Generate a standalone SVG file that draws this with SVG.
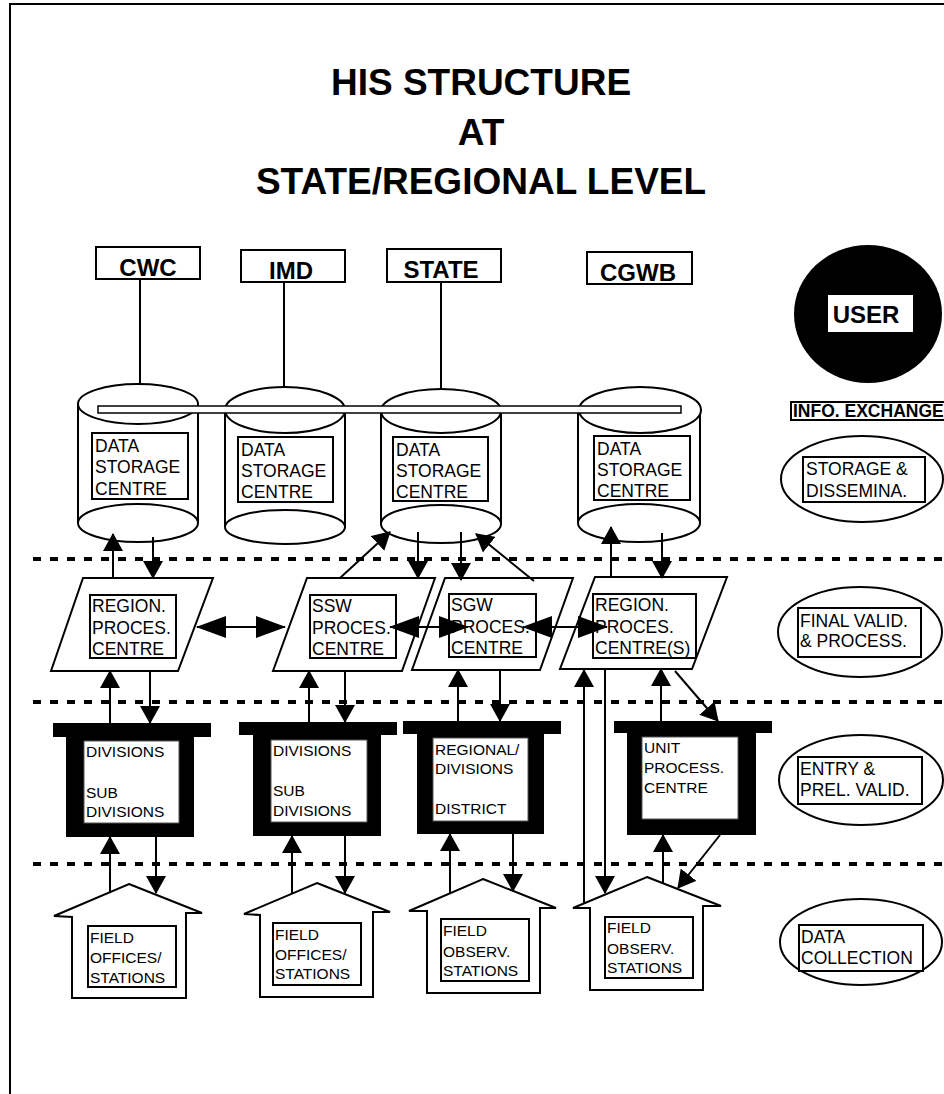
<svg xmlns="http://www.w3.org/2000/svg" width="944" height="1094" viewBox="0 0 944 1094">
<style>
.ln{stroke:#000;stroke-width:2;fill:none}
.sh{fill:#fff;stroke:#000;stroke-width:2}
.blk{fill:#000;stroke:none}
.wh{fill:#fff;stroke:#555;stroke-width:1}
.t{font-family:"Liberation Sans",Arial,sans-serif;font-size:17.5px;fill:#000}
.ts{font-size:15.5px}
.tb{font-weight:bold;font-size:24px}
.title{font-family:"Liberation Sans",Arial,sans-serif;font-weight:bold;font-size:37px;fill:#000}
.dot{stroke:#000;stroke-width:4;stroke-dasharray:8 9;fill:none}
.arr{stroke:#000;stroke-width:2;fill:none;marker-end:url(#ah)}
.dbl{stroke:#000;stroke-width:2;fill:none;marker-end:url(#aw);marker-start:url(#aw)}
</style>
<defs>
<marker id="ah" viewBox="0 0 18 20" markerWidth="18" markerHeight="20" refX="17" refY="10" orient="auto" markerUnits="userSpaceOnUse"><path d="M0,0 L18,10 L0,20 z" fill="#000"/></marker>
<marker id="aw" viewBox="0 0 30 22" markerWidth="30" markerHeight="22" refX="29" refY="11" orient="auto-start-reverse" markerUnits="userSpaceOnUse"><path d="M0,0 L30,11 L0,22 z" fill="#000"/></marker>
</defs>
<rect width="944" height="1094" fill="#fff"/>
<path d="M10,1094 V4 H944" class="ln"/>
<g id="title">
<text x="481" y="95" text-anchor="middle" class="title">HIS STRUCTURE</text>
<text x="481" y="145" text-anchor="middle" class="title">AT</text>
<text x="481" y="194" text-anchor="middle" class="title">STATE/REGIONAL LEVEL</text>
</g>
<g id="levels">
<line x1="33" y1="559" x2="944" y2="559" class="dot"/>
<line x1="33" y1="702" x2="944" y2="702" class="dot"/>
<line x1="33" y1="864" x2="944" y2="864" class="dot"/>
</g>
<g id="org-cwc"><rect x="96" y="247" width="104" height="32" class="sh"/><text x="148" y="276" text-anchor="middle" class="t tb">CWC</text></g>
<g id="org-imd"><rect x="241" y="250" width="104" height="32" class="sh"/><text x="291" y="279" text-anchor="middle" class="t tb">IMD</text></g>
<g id="org-state"><rect x="387" y="249" width="114" height="33" class="sh"/><text x="441" y="278" text-anchor="middle" class="t tb">STATE</text></g>
<g id="org-cgwb"><rect x="587" y="252" width="105" height="32" class="sh"/><text x="638" y="281" text-anchor="middle" class="t tb">CGWB</text></g>
<g id="org-lines">
<line x1="140" y1="279" x2="140" y2="384" class="ln"/>
<line x1="284" y1="282" x2="284" y2="388" class="ln"/>
<line x1="441" y1="282" x2="441" y2="390" class="ln"/>
</g>
<g id="dsc-cwc">
<rect x="78" y="404" width="120" height="119" fill="#fff"/>
<line x1="78" y1="404" x2="78" y2="523" class="ln"/><line x1="198" y1="404" x2="198" y2="523" class="ln"/>
<ellipse cx="138" cy="523" rx="60" ry="19" class="sh"/>
<ellipse cx="138" cy="404" rx="60" ry="20" class="sh"/>
<rect x="92" y="433" width="96" height="66" class="sh"/>
<text class="t"><tspan x="95" y="452">DATA</tspan><tspan x="95" y="473">STORAGE</tspan><tspan x="95" y="495">CENTRE</tspan></text>
</g>
<g id="dsc-imd">
<rect x="225" y="410" width="120" height="117" fill="#fff"/>
<line x1="225" y1="410" x2="225" y2="527" class="ln"/><line x1="345" y1="410" x2="345" y2="527" class="ln"/>
<ellipse cx="285" cy="527" rx="60" ry="17" class="sh"/>
<ellipse cx="285" cy="410" rx="60" ry="23" class="sh"/>
<rect x="238" y="437" width="95" height="65" class="sh"/>
<text class="t"><tspan x="241" y="456">DATA</tspan><tspan x="241" y="477">STORAGE</tspan><tspan x="241" y="498">CENTRE</tspan></text>
</g>
<g id="dsc-state">
<rect x="381" y="411" width="120" height="113" fill="#fff"/>
<line x1="381" y1="411" x2="381" y2="524" class="ln"/><line x1="501" y1="411" x2="501" y2="524" class="ln"/>
<ellipse cx="441" cy="524" rx="60" ry="19" class="sh"/>
<ellipse cx="441" cy="411" rx="60" ry="22" class="sh"/>
<rect x="393" y="437" width="95" height="64" class="sh"/>
<text class="t"><tspan x="396" y="456">DATA</tspan><tspan x="396" y="477">STORAGE</tspan><tspan x="396" y="498">CENTRE</tspan></text>
</g>
<g id="dsc-cgwb">
<rect x="578" y="410" width="122" height="113" fill="#fff"/>
<line x1="578" y1="410" x2="578" y2="523" class="ln"/><line x1="700" y1="410" x2="700" y2="523" class="ln"/>
<ellipse cx="639" cy="523" rx="61" ry="19" class="sh"/>
<ellipse cx="640" cy="410" rx="61" ry="23" class="sh"/>
<rect x="594" y="436" width="96" height="64" class="sh"/>
<text class="t"><tspan x="597" y="455">DATA</tspan><tspan x="597" y="476">STORAGE</tspan><tspan x="597" y="497">CENTRE</tspan></text>
</g>
<g id="info-bar"><rect x="98" y="406" width="583" height="7" fill="#fff" stroke="#000" stroke-width="1.5"/></g>
<g id="proc-region1">
<polygon points="83,578 213,578 178,671 51,671" class="sh"/>
<rect x="90" y="595" width="86" height="63" class="sh"/>
<text class="t"><tspan x="92" y="612">REGION.</tspan><tspan x="92" y="634">PROCES.</tspan><tspan x="92" y="655">CENTRE</tspan></text>
</g>
<g id="proc-ssw">
<polygon points="307,578 435,578 402,671 273,671" class="sh"/>
<rect x="310" y="595" width="86" height="63" class="sh"/>
<text class="t"><tspan x="312" y="612">SSW</tspan><tspan x="312" y="634">PROCES.</tspan><tspan x="312" y="655">CENTRE</tspan></text>
</g>
<g id="proc-sgw">
<polygon points="445,578 573,578 540,670 412,670" class="sh"/>
<rect x="449" y="594" width="87" height="63" class="sh"/>
<text class="t"><tspan x="451" y="611">SGW</tspan><tspan x="451" y="633">PROCES.</tspan><tspan x="451" y="654">CENTRE</tspan></text>
</g>
<g id="proc-region2">
<polygon points="595,577 727,577 692,669 560,669" class="sh"/>
<rect x="593" y="594" width="103" height="64" class="sh"/>
<text class="t"><tspan x="595" y="611">REGION.</tspan><tspan x="595" y="633">PROCES.</tspan><tspan x="595" y="654">CENTRE(S)</tspan></text>
</g>
<g id="div-1">
<path d="M53,723 H211 V737 H194 V837 H66 V737 H53 Z" class="blk"/>
<rect x="84" y="741" width="95" height="82" class="wh"/>
<text class="t ts"><tspan x="86" y="757">DIVISIONS</tspan><tspan x="86" y="798">SUB</tspan><tspan x="86" y="817">DIVISIONS</tspan></text>
</g>
<g id="div-2">
<path d="M239,722 H397 V735 H381 V836 H253 V735 H239 Z" class="blk"/>
<rect x="271" y="740" width="96" height="82" class="wh"/>
<text class="t ts"><tspan x="273" y="756">DIVISIONS</tspan><tspan x="273" y="796">SUB</tspan><tspan x="273" y="816">DIVISIONS</tspan></text>
</g>
<g id="div-3">
<path d="M403,721 H561 V734 H544 V834 H417 V734 H403 Z" class="blk"/>
<rect x="433" y="738" width="95" height="83" class="wh"/>
<text class="t ts"><tspan x="435" y="755">REGIONAL/</tspan><tspan x="435" y="774">DIVISIONS</tspan><tspan x="435" y="814">DISTRICT</tspan></text>
</g>
<g id="div-4">
<path d="M614,721 H772 V733 H756 V835 H627 V733 H614 Z" class="blk"/>
<rect x="642" y="737" width="96" height="82" class="wh"/>
<text class="t ts"><tspan x="644" y="753">UNIT</tspan><tspan x="644" y="773">PROCESS.</tspan><tspan x="644" y="793">CENTRE</tspan></text>
</g>
<g id="field-1">
<polygon points="129,884 202,913 186,913 186,998 72,998 72,917 54,916" class="sh"/>
<rect x="88" y="926" width="88" height="61" class="sh"/>
<text class="t ts"><tspan x="90" y="943">FIELD</tspan><tspan x="90" y="963">OFFICES/</tspan><tspan x="90" y="983">STATIONS</tspan></text>
</g>
<g id="field-2">
<polygon points="317,883 390,912 373,912 373,997 260,997 260,915 244,914" class="sh"/>
<rect x="273" y="923" width="88" height="62" class="sh"/>
<text class="t ts"><tspan x="275" y="940">FIELD</tspan><tspan x="275" y="960">OFFICES/</tspan><tspan x="275" y="979">STATIONS</tspan></text>
</g>
<g id="field-3">
<polygon points="483,879 556,908 540,908 540,993 427,993 427,911 409,911" class="sh"/>
<rect x="441" y="919" width="88" height="62" class="sh"/>
<text class="t ts"><tspan x="443" y="936">FIELD</tspan><tspan x="443" y="957">OBSERV.</tspan><tspan x="443" y="976">STATIONS</tspan></text>
</g>
<g id="field-4">
<polygon points="647,877 721,906 703,906 703,990 590,990 590,908 573,908" class="sh"/>
<rect x="605" y="917" width="88" height="61" class="sh"/>
<text class="t ts"><tspan x="607" y="933">FIELD</tspan><tspan x="607" y="954">OBSERV.</tspan><tspan x="607" y="973">STATIONS</tspan></text>
</g>
<g id="user">
<ellipse cx="868" cy="314" rx="74" ry="69" fill="#000"/>
<rect x="828" y="295" width="85" height="37" fill="#fff"/>
<text x="866" y="323" text-anchor="middle" class="t tb">USER</text>
</g>
<g id="info-exchange">
<rect x="791" y="402" width="170" height="18" class="sh"/>
<text x="793" y="417" class="t" font-weight="bold" font-size="17px">INFO. EXCHANGE</text>
</g>
<g id="lvl-storage">
<ellipse cx="862" cy="479" rx="81" ry="43" class="sh"/>
<rect x="803" y="457" width="122" height="45" class="sh"/>
<text class="t"><tspan x="806" y="475">STORAGE &amp;</tspan><tspan x="806" y="497">DISSEMINA.</tspan></text>
</g>
<g id="lvl-final">
<ellipse cx="860" cy="632" rx="82" ry="45" class="sh"/>
<rect x="798" y="608" width="123" height="49" class="sh"/>
<text class="t"><tspan x="800" y="627">FINAL VALID.</tspan><tspan x="800" y="647">&amp; PROCESS.</tspan></text>
</g>
<g id="lvl-entry">
<ellipse cx="861" cy="780" rx="82" ry="45" class="sh"/>
<rect x="798" y="757" width="124" height="47" class="sh"/>
<text class="t"><tspan x="800" y="775">ENTRY &amp;</tspan><tspan x="800" y="796">PREL. VALID.</tspan></text>
</g>
<g id="lvl-collection">
<ellipse cx="861" cy="942" rx="81" ry="43" class="sh"/>
<rect x="799" y="925" width="124" height="46" class="sh"/>
<text class="t"><tspan x="801" y="943">DATA</tspan><tspan x="801" y="964">COLLECTION</tspan></text>
</g>
<g id="connectors">
<line x1="113" y1="578" x2="113" y2="534" class="arr"/>
<line x1="153" y1="537" x2="153" y2="578" class="arr"/>
<line x1="340" y1="578" x2="390" y2="532" class="arr"/>
<line x1="418" y1="532" x2="418" y2="578" class="arr"/>
<line x1="461" y1="532" x2="461" y2="580" class="arr"/>
<line x1="534" y1="581" x2="476" y2="534" class="arr"/>
<line x1="611" y1="577" x2="611" y2="527" class="arr"/>
<line x1="662" y1="533" x2="662" y2="578" class="arr"/>
<line x1="197" y1="627" x2="285" y2="627" class="dbl"/>
<line x1="390" y1="627" x2="468" y2="627" class="dbl"/>
<line x1="523" y1="627" x2="607" y2="627" class="dbl"/>
<line x1="110" y1="723" x2="110" y2="671" class="arr"/>
<line x1="150" y1="671" x2="150" y2="723" class="arr"/>
<line x1="309" y1="722" x2="309" y2="671" class="arr"/>
<line x1="345" y1="671" x2="345" y2="722" class="arr"/>
<line x1="458" y1="721" x2="458" y2="670" class="arr"/>
<line x1="500" y1="670" x2="500" y2="721" class="arr"/>
<line x1="661" y1="721" x2="661" y2="669" class="arr"/>
<line x1="675" y1="671" x2="718" y2="721" class="arr"/>
<line x1="584" y1="903" x2="584" y2="670" class="arr"/>
<line x1="605" y1="669" x2="605" y2="893" class="arr"/>
<line x1="110" y1="893" x2="110" y2="837" class="arr"/>
<line x1="156" y1="837" x2="156" y2="893" class="arr"/>
<line x1="292" y1="893" x2="292" y2="836" class="arr"/>
<line x1="345" y1="836" x2="345" y2="893" class="arr"/>
<line x1="450" y1="893" x2="450" y2="834" class="arr"/>
<line x1="513" y1="834" x2="513" y2="891" class="arr"/>
<line x1="663" y1="883" x2="663" y2="835" class="arr"/>
<line x1="720" y1="835" x2="678" y2="888" class="arr"/>
</g>
</svg>
